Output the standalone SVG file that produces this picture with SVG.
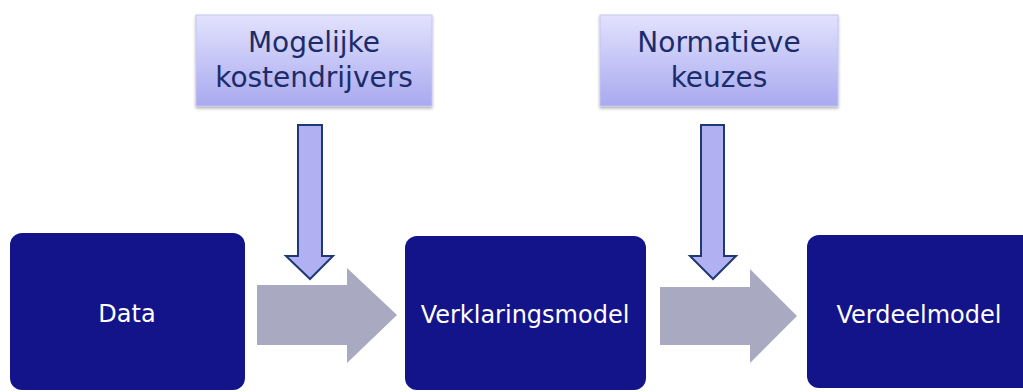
<svg xmlns="http://www.w3.org/2000/svg" width="1023" height="392" viewBox="0 0 1023 392">
<defs>
<linearGradient id="g" x1="0" y1="0" x2="0" y2="1">
<stop offset="0" stop-color="#e2e2fd"/>
<stop offset="1" stop-color="#a9a9f0"/>
</linearGradient>
<filter id="sh" x="-5%" y="-5%" width="110%" height="120%">
<feDropShadow dx="0" dy="2" stdDeviation="1.5" flood-color="#000" flood-opacity="0.3"/>
</filter>
</defs>
<style>
.box{fill:#14148a}
.lbl{fill:#ffffff;font-family:"DejaVu Sans",sans-serif;font-size:24px;text-anchor:middle}
.top{fill:url(#g);stroke:#c4c4f4;stroke-width:1;filter:url(#sh)}
.ttl{fill:#1c2c6a;font-family:"DejaVu Sans",sans-serif;font-size:28px;text-anchor:middle}
.big{fill:#a9a9c2}
.down{fill:#b0b0f2;stroke:#1f3a72;stroke-width:2;stroke-linejoin:miter}
</style>
<rect width="1023" height="392" fill="#ffffff"/>
<g id="connectors">
<polygon class="big" points="257,285 347,285 347,268 397,315 347,363 347,345 257,345"/>
<polygon class="big" points="660,287 750,287 750,269 797,316 750,363 750,345 660,345"/>
<polygon class="down" points="298,125 322,125 322,256 333,256 310,279 286,256 298,256"/>
<polygon class="down" points="701,125 724,125 724,256 736,256 713,279 690,256 701,256"/>
</g>
<g id="node-mogelijke">
<rect class="top" x="196" y="15" width="236" height="91"/>
<text class="ttl" x="314" y="52">Mogelijke</text>
<text class="ttl" x="314" y="87">kostendrijvers</text>
</g>
<g id="node-normatieve">
<rect class="top" x="600" y="15" width="238" height="91"/>
<text class="ttl" x="719" y="52">Normatieve</text>
<text class="ttl" x="719" y="87">keuzes</text>
</g>
<g id="node-data">
<rect class="box" x="10" y="233" width="235" height="157" rx="12"/>
<text class="lbl" x="127" y="322">Data</text>
</g>
<g id="node-verklaringsmodel">
<rect class="box" x="405" y="236" width="241" height="154" rx="12"/>
<text class="lbl" x="525" y="323">Verklaringsmodel</text>
</g>
<g id="node-verdeelmodel">
<rect class="box" x="807" y="235" width="230" height="153" rx="12"/>
<text class="lbl" x="919" y="323">Verdeelmodel</text>
</g>
</svg>
